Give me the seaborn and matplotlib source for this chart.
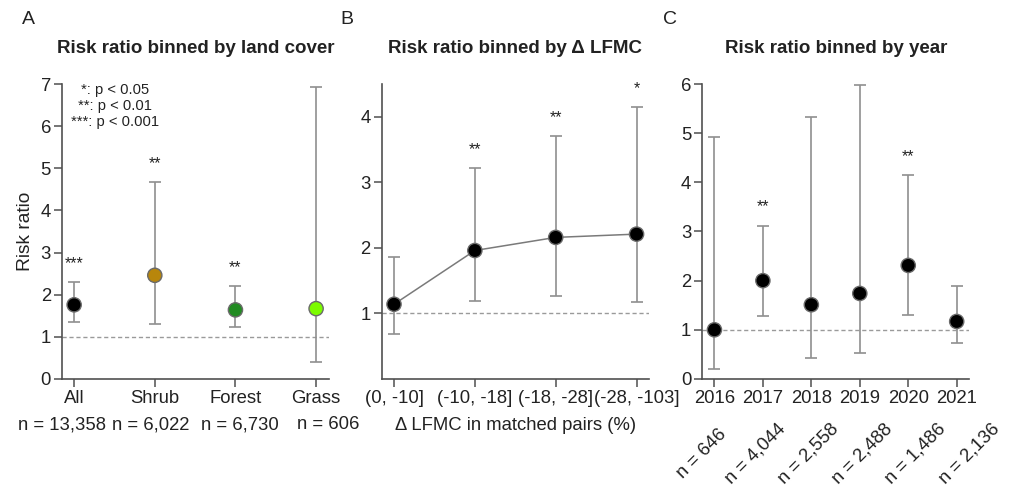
import matplotlib
matplotlib.use("Agg")
import matplotlib.pyplot as plt
import seaborn as sns
import numpy as np
import pandas as pd

# ---------------- data ----------------
cover_labels = ["All", "Shrub", "Forest", "Grass"]
cover_n = ["n = 13,358", "n = 6,022", "n = 6,730", "n = 606"]
cover_rr = [1.76, 2.46, 1.64, 1.67]
cover_lo = [1.36, 1.31, 1.23, 0.40]
cover_hi = [2.29, 4.68, 2.21, 6.92]
cover_sig = ["***", "**", "**", ""]
cover_colors = ["#000000", "#b8860b", "#228b22", "#7cfc00"]

lfmc_labels = ["(0, -10]", "(-10, -18]", "(-18, -28]", "(-28, -103]"]
lfmc_rr = [1.14, 1.96, 2.16, 2.21]
lfmc_lo = [0.69, 1.19, 1.26, 1.17]
lfmc_hi = [1.86, 3.22, 3.70, 4.15]
lfmc_sig = ["", "**", "**", "*"]

year_labels = ["2016", "2017", "2018", "2019", "2020", "2021"]
year_n = ["n = 646", "n = 4,044", "n = 2,558", "n = 2,488", "n = 1,486", "n = 2,136"]
year_rr = [1.00, 2.00, 1.51, 1.74, 2.31, 1.17]
year_lo = [0.21, 1.29, 0.42, 0.52, 1.31, 0.73]
year_hi = [4.93, 3.12, 5.32, 5.97, 4.14, 1.89]
year_sig = ["", "**", "", "", "**", ""]

# ---------------- style ----------------
sns.set_theme(style="ticks")
plt.rcParams["font.family"] = ["Liberation Sans", "DejaVu Sans"]
TXT = "#222222"
SPINE = "#505050"
ERR = "#8f8f8f"
FS = 13.3
TFS = 13.5

fig = plt.figure(figsize=(10.12, 4.87), dpi=100)
bottom, height = 0.2218, 0.6057
axA = fig.add_axes([0.0613, bottom, 0.2638, height])
axB = fig.add_axes([0.3772, bottom, 0.2638, height])
axC = fig.add_axes([0.6940, bottom, 0.2638, height])


def style_axis(ax):
    sns.despine(ax=ax)
    for s in ["left", "bottom"]:
        ax.spines[s].set_color(SPINE)
        ax.spines[s].set_linewidth(1.2)
    ax.tick_params(axis="both", colors=SPINE, labelcolor=TXT, labelsize=FS,
                   length=5.5, width=1.1, direction="out", pad=2.5)


def draw_panel(ax, labels, rr, lo, hi, sig, colors, connect=False):
    x = np.arange(len(labels))
    df = pd.DataFrame({"x": x, "rr": rr, "lo": lo, "hi": hi, "c": labels})
    ax.axhline(1, color="#9a9a9a", lw=1.0, ls=(0, (3, 2)), zorder=1)
    ax.errorbar(df["x"], df["rr"],
                yerr=[df["rr"] - df["lo"], df["hi"] - df["rr"]],
                fmt="none", ecolor=ERR, elinewidth=1.2, capsize=4,
                capthick=1.2, zorder=2)
    if connect:
        sns.lineplot(data=df, x="x", y="rr", ax=ax, color="#7a7a7a",
                     lw=1.1, zorder=3, legend=False)
    sns.scatterplot(data=df, x="x", y="rr", hue="c", palette=colors,
                    s=105, edgecolor="#6a6a6a", linewidth=1.0, ax=ax,
                    zorder=4, legend=False)
    for xi, h, s in zip(x, hi, sig):
        if s:
            ax.annotate(s, (xi, h), xytext=(0, 8), textcoords="offset points",
                        ha="center", va="bottom", fontsize=11.5, color=TXT)
    ax.set_xticks(x)
    ax.set_xticklabels(labels)
    ax.set_xlabel("")
    ax.set_ylabel("")


# Panel A
draw_panel(axA, cover_labels, cover_rr, cover_lo, cover_hi, cover_sig, cover_colors)
axA.set_xlim(-0.15, 3.16)
axA.set_ylim(0, 7)
axA.set_yticks(range(0, 8))
axA.set_ylabel("Risk ratio", fontsize=13.8, color=TXT)
axA.yaxis.set_label_coords(-0.106, 0.5)
style_axis(axA)
axA.set_title("Risk ratio binned by land cover", fontsize=TFS,
              fontweight="bold", color=TXT, pad=22)
for t, yy in zip(["*: p < 0.05", "**: p < 0.01", "***: p < 0.001"],
                 [0.979, 0.925, 0.872]):
    axA.text(0.2, yy, t, transform=axA.transAxes, ha="center", va="center",
             fontsize=10.6, color=TXT)
mid = 1.5
for i, t in enumerate(cover_n):
    axA.annotate(t, (mid + (i - mid) * 1.1, 0), xycoords=("data", "axes fraction"),
                 xytext=(0, -33), textcoords="offset points", ha="center",
                 va="center", fontsize=FS, color=TXT, annotation_clip=False)

# Panel B
draw_panel(axB, lfmc_labels, lfmc_rr, lfmc_lo, lfmc_hi, lfmc_sig,
           ["#000000"] * 4, connect=True)
axB.set_xlim(-0.152, 3.15)
axB.set_ylim(0, 4.5)
axB.set_yticks([1, 2, 3, 4])
style_axis(axB)
axB.set_xlabel("Δ LFMC in matched pairs (%)", fontsize=FS, color=TXT, labelpad=7)
axB.set_title("Risk ratio binned by Δ LFMC", fontsize=TFS,
              fontweight="bold", color=TXT, pad=22)

# Panel C
draw_panel(axC, year_labels, year_rr, year_lo, year_hi, year_sig,
           ["#000000"] * 6)
axC.set_xlim(-0.25, 5.26)
axC.set_ylim(0, 6)
axC.set_yticks(range(0, 7))
style_axis(axC)
axC.set_title("Risk ratio binned by year", fontsize=TFS,
              fontweight="bold", color=TXT, pad=22)
midc = 2.5
for i, t in enumerate(year_n):
    axC.annotate(t, (midc + (i - midc) * 1.103, 0), xycoords=("data", "axes fraction"),
                 xytext=(0, -54), textcoords="offset points", ha="center",
                 va="center", rotation=45, rotation_mode="anchor",
                 fontsize=FS, color=TXT, annotation_clip=False)

# panel letters
for lab, xx in zip(["A", "B", "C"], [28, 347, 670]):
    fig.text(xx / 1012, 1 - 19 / 487, lab, ha="center", va="center",
             fontsize=14, color=TXT)

fig.savefig("out.png", dpi=100)
